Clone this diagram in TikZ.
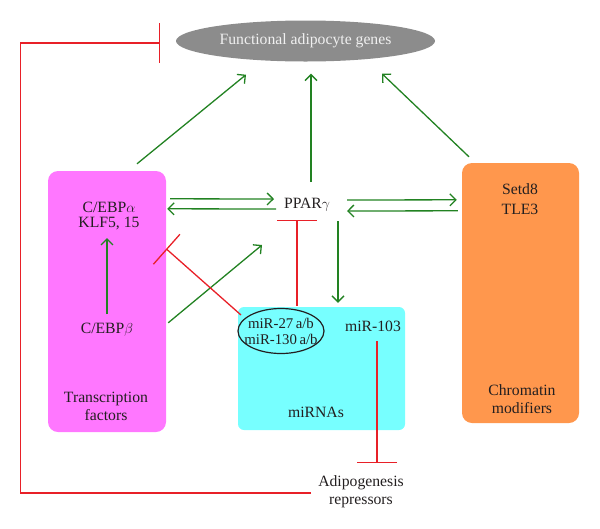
\documentclass[tikz,border=0pt]{standalone}
\usepackage{fontspec}
\setmainfont{Liberation Serif}
\usetikzlibrary{arrows.meta,calc,shapes.geometric,positioning}
\definecolor{tfpink}{RGB}{255,119,255}
\definecolor{mircyan}{RGB}{119,255,255}
\definecolor{cmorange}{RGB}{255,151,77}
\definecolor{genegray}{RGB}{140,140,140}
\definecolor{actgreen}{RGB}{34,130,34}
\definecolor{inhred}{RGB}{232,32,40}
\definecolor{txt}{RGB}{35,31,32}
\tikzset{act/.style={draw=actgreen, line width=1.3pt, -{Straight Barb[length=6pt,width=12pt]}},
inh/.style={draw=inhred, line width=1.3pt, -{Bar[width=40pt]}},
group/.style={rounded corners=10pt, inner sep=0pt},
lbl/.style={text=txt, font=\fontsize{15.7}{18}\selectfont, align=center}}

\begin{document}
\begin{tikzpicture}[x=1pt, y=-1pt]
        \useasboundingbox (0,0) rectangle (600,528);
        \node[ellipse, fill=genegray, minimum width=259pt, minimum height=41pt, text=white!94!black, font=\fontsize{15.7}{18}\selectfont] (genes) at (305.5,41) {Functional adipocyte genes};
        \node[group, fill=tfpink, minimum width=118pt, minimum height=261pt] (tf) at (107,301.5) {};
        \node[group, fill=mircyan, minimum width=167pt, minimum height=123pt, rounded corners=6pt] (mirnas) at (321.5,368.5) {};
        \node[group, fill=cmorange, minimum width=117pt, minimum height=260pt] (cm) at (520.5,293) {};

        \node[lbl] (cebpa) at (109,207) {C/EBP$\alpha$};
        \node[lbl] (klf) at (109,224) {KLF5, 15};
        \node[lbl] (cebpb) at (107,330) {C/EBP$\beta$};
        \node[lbl] (tflbl) at (106,406) {Transcription\\factors};
        \node[lbl] (ppar) at (307,205) {PPAR$\gamma$};
        \node[lbl] (setd) at (520,189) {Setd8};
        \node[lbl] (tle) at (520,209) {TLE3};
        \node[lbl] (cmlbl) at (522,399) {Chromatin\\modifiers};
        \node[lbl] (mirlbl) at (316,412) {miRNAs};
        \node[ellipse, draw=txt, line width=1.2pt, minimum width=86pt, minimum height=45pt] (mir27) at (281,331) {};
        \node[lbl, font=\fontsize{14.8}{16}\selectfont] (mir27txt) at (mir27) {miR-27\,a/b\\miR-130\,a/b};
        \node[lbl] (mir103) at (373,326) {miR-103};
        \node[lbl] (adipo) at (361,491.5) {Adipogenesis\\repressors};

        \draw ($(tf.north)+(30,-7)$) edge[act] ($(genes.south)+(-59.5,13)$)
              ($(ppar.center)+(4,-23)$) edge[act] ($(genes.south)+(5.5,12)$)
              ($(cm.north)+(-51.5,-6)$) edge[act] ($(genes.south)+(76.5,12)$)

              ($(tf.north east)+(4,28)$) edge[act] ($(ppar.center)+(-33,-6)$)
              ($(ppar.center)+(-31,4)$) edge[act] ($(tf.north east)+(1,38)$)

              ($(ppar.center)+(40,-5)$) edge[act] ($(cm.north west)+(-5,37)$)
              ($(cm.north west)+(-4,48)$) edge[act] ($(ppar.center)+(40,6)$)

              ($(tf.north east)+(2,152)$) edge[act] ($(ppar.center)+(-45,40)$)
              ($(cebpb.center)+(0,-16)$) edge[act] ($(klf.center)+(-2,14)$)
              ($(ppar.center)+(31,16)$) edge[act] ($(mirnas.north)+(16.5,-4)$)

              ($(mir27.north)+(16,-2)$) edge[inh] ($(ppar.center)+(-10,15)$)
              ($(mir27.center)+(-40,-16)$) edge[inh] ($(tf.north east)+(0,78)$)
              ($(mir103.center)+(4,15)$) edge[inh] ($(adipo.center)+(16,-28.5)$)
              ;
        \draw[inh] ($(adipo.center)+(-50,1.5)$) -| ($(genes.west)+(-155,2)$) -- ($(genes.west)+(-16,2)$);
    \end{tikzpicture}
\end{document}
